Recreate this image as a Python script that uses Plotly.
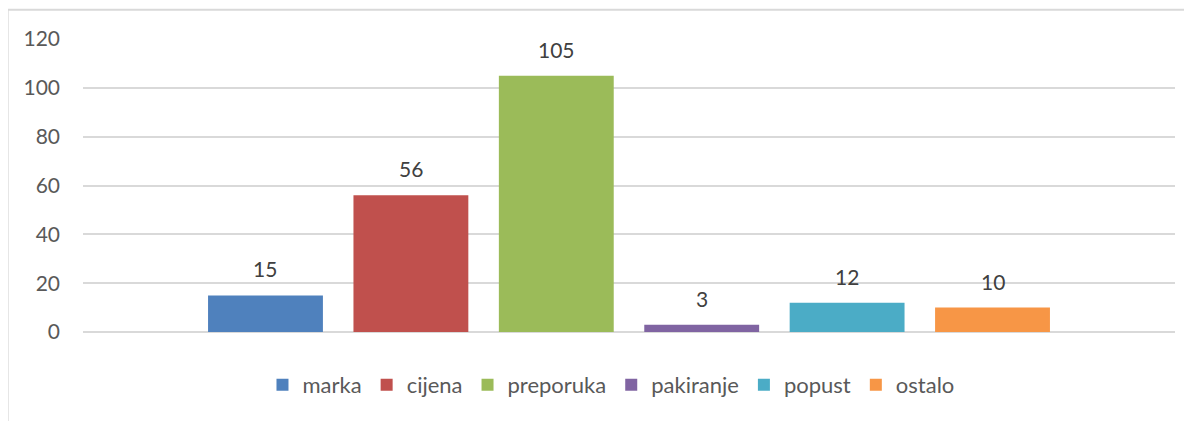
import plotly.graph_objects as go

categories = ["marka", "cijena", "preporuka", "pakiranje", "popust", "ostalo"]
values = [15, 56, 105, 3, 12, 10]
colors = ["#4F81BD", "#C0504D", "#9BBB59", "#8064A2", "#4BACC6", "#F79646"]
y_ticks = [0, 20, 40, 60, 80, 100, 120]

fig = go.Figure()
for name, val, col in zip(categories, values, colors):
    fig.add_trace(go.Bar(x=[name], y=[val], name=name,
                         marker=dict(color=col, line=dict(width=0))))
    # value label above each bar
    fig.add_annotation(x=name, y=val, text=str(val), showarrow=False,
                       yanchor="bottom", yshift=12,
                       font=dict(size=21, color="#404040"))

fig.update_layout(
    width=1192, height=421,
    margin=dict(l=75, r=25, t=31, b=97),
    paper_bgcolor="white", plot_bgcolor="white",
    font=dict(family="Lato, Open Sans, sans-serif", size=21, color="#595959"),
    barmode="overlay", bargap=0.21,
    showlegend=True,
    legend=dict(orientation="h", x=0.4835, xanchor="center", y=-0.181, yanchor="middle",
                font=dict(size=22, color="#595959"), itemwidth=30, traceorder="normal"),
    shapes=[
        dict(type="line", xref="paper", yref="paper", x0=-0.069, x1=1.1, y0=1.1, y1=1.1,
             line=dict(color="#d9d9d9", width=2)),
        dict(type="line", xref="paper", yref="paper", x0=-0.069, x1=-0.069, y0=1.1, y1=-0.35,
             line=dict(color="#d9d9d9", width=2)),
    ],
)
fig.update_xaxes(range=[-1.255, 6.255], showticklabels=False, showgrid=False,
                 zeroline=False, showline=False, ticks="")
fig.update_yaxes(range=[0, 120], tickvals=y_ticks, showgrid=True, gridcolor="#d9d9d9", gridwidth=1.5,
                 zeroline=True, zerolinecolor="#d9d9d9", zerolinewidth=1.5, showline=False,
                 ticklabelstandoff=22, tickfont=dict(size=21, color="#595959"))

fig.write_html("out.html")
